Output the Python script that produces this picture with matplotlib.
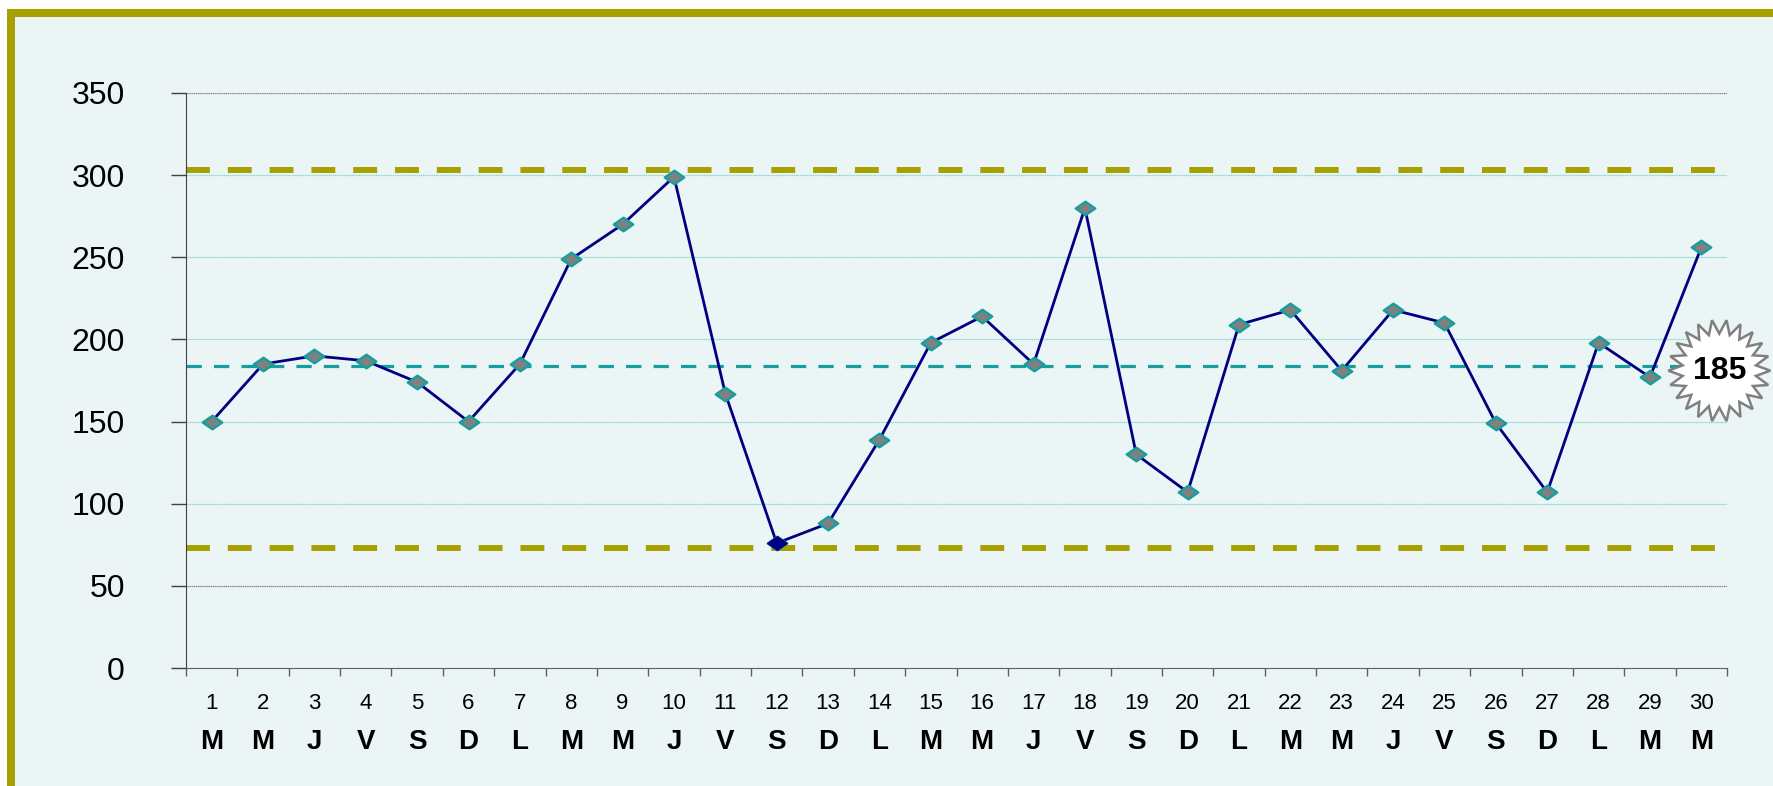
import numpy as np
import matplotlib
matplotlib.use("Agg")
import matplotlib.pyplot as plt
import matplotlib.patches as mpatches
from matplotlib.path import Path
from matplotlib.transforms import IdentityTransform

# Chart data
days = list(range(1, 31))
weekdays = ['M', 'M', 'J', 'V', 'S', 'D', 'L', 'M', 'M', 'J', 'V', 'S', 'D', 'L', 'M',
            'M', 'J', 'V', 'S', 'D', 'L', 'M', 'M', 'J', 'V', 'S', 'D', 'L', 'M', 'M']
values = [150, 185, 190, 187, 174, 150, 185, 249, 270, 299, 167, 76, 88, 139, 198,
          214, 185, 280, 130, 107, 209, 218, 181, 218, 210, 149, 107, 198, 177, 256]
upper_limit = 303
center_line = 184
lower_limit = 73
center_label = "185"
y_ticks = [0, 50, 100, 150, 200, 250, 300, 350]

bg = '#ebf5f5'
olive = '#a6a000'
teal = '#169e9e'
navy = '#000080'

plt.rcParams['font.family'] = ['Liberation Sans', 'DejaVu Sans']

W, H = 1773, 786
fig = plt.figure(figsize=(W / 100, H / 100), dpi=100, facecolor=bg)

# White margin strips, then olive border on top and left
fig.patches.append(mpatches.Rectangle((0, 1 - 9 / H), 1, 9 / H, transform=fig.transFigure,
                                      facecolor='white', edgecolor='none', zorder=-2))
fig.patches.append(mpatches.Rectangle((0, 0), 7 / W, 1, transform=fig.transFigure,
                                      facecolor='white', edgecolor='none', zorder=-2))
fig.patches.append(mpatches.Rectangle((7 / W, 1 - 17 / H), 1, 8 / H, transform=fig.transFigure,
                                      facecolor=olive, edgecolor='none', zorder=-1))
fig.patches.append(mpatches.Rectangle((7 / W, 0), 8 / W, 1 - 9 / H, transform=fig.transFigure,
                                      facecolor=olive, edgecolor='none', zorder=-1))

ax = fig.add_axes([186 / W, 1 - 668 / H, (1727 - 186) / W, (668 - 93) / H])
ax.set_facecolor(bg)
ax.set_xlim(0, 30)
ax.set_ylim(0, 350)

# Gridlines
for yv in y_ticks[1:]:
    if yv in (50, 350):
        ax.axhline(yv, color='#7f7f7f', lw=0.9, ls=(0, (1, 0.5)), zorder=1)
    else:
        ax.axhline(yv, color='#8fd3d3', lw=0.9, ls=(0, (1, 0.5)), zorder=1)

# Control limits
ax.axhline(upper_limit, color=olive, lw=4.3, dashes=(4, 3), zorder=2)
ax.axhline(lower_limit, color=olive, lw=4.3, dashes=(4, 3), zorder=2)
ax.axhline(center_line, color=teal, lw=2.3, dashes=(4.8, 3.8), zorder=2)

# Data series
x = np.array(days) - 0.5
diamond = Path([(-1, 0), (0, 0.7), (1, 0), (0, -0.7), (-1, 0)],
               [Path.MOVETO, Path.LINETO, Path.LINETO, Path.LINETO, Path.CLOSEPOLY])
ax.plot(x, values, color=navy, lw=2, zorder=3)
ax.plot(x, values, ls='none', marker=diamond, ms=14, mfc='#808080', mec=teal, mew=1.7, zorder=4)
i_min = values.index(min(values))
ax.plot(x[i_min], values[i_min], ls='none', marker=diamond, ms=14, mfc=navy, mec=navy, zorder=5)

# Axes styling
for s in ['top', 'right']:
    ax.spines[s].set_visible(False)
ax.spines['left'].set_color('#404040')
ax.spines['bottom'].set_color('#606060')
ax.set_yticks(y_ticks)
ax.set_yticklabels([str(v) for v in y_ticks], fontsize=23)
ax.tick_params(axis='y', length=11, width=1, color='#404040', pad=33)
ax.set_xticks(range(0, 31))
ax.set_xticklabels([])
ax.tick_params(axis='x', length=6, width=1, color='#606060')

tr = ax.get_xaxis_transform()
for xi, d, w in zip(x, days, weekdays):
    ax.text(xi, -0.062, str(d), transform=tr, ha='center', va='center', fontsize=16)
    ax.text(xi, -0.128, w, transform=tr, ha='center', va='center', fontsize=20,
            fontweight='bold')

# Starburst label for the center line
cx, cy = ax.transData.transform((29.85, 181))
n = 22
ang = np.linspace(0, 2 * np.pi, 2 * n, endpoint=False)
rad = np.where(np.arange(2 * n) % 2 == 0, 51, 37)
verts = np.column_stack([cx + rad * np.cos(ang), cy + rad * np.sin(ang)])
star = mpatches.Polygon(verts, closed=True, transform=IdentityTransform(),
                        facecolor='white', edgecolor='#808080', lw=1.8, zorder=10,
                        clip_on=False)
fig.patches.append(star)
fig.text(cx / W, cy / H, center_label, ha='center', va='center', fontsize=23,
         fontweight='bold', zorder=11)

fig.savefig('out.png', dpi=100, facecolor=bg)
